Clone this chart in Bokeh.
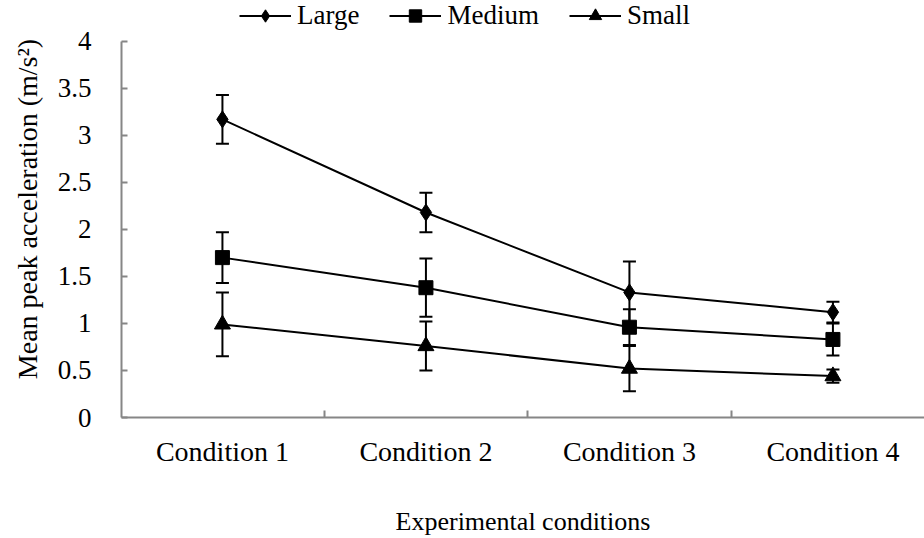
from bokeh.plotting import figure
from bokeh.models import (ColumnDataSource, Whisker, TeeHead, FixedTicker, Legend,
                          LegendItem, Range1d)
from bokeh.embed import file_html
from bokeh.resources import INLINE

# ---- data ----
conditions = ["Condition 1", "Condition 2", "Condition 3", "Condition 4"]
x_pos = [1, 2, 3, 4]
large = [3.17, 2.18, 1.33, 1.12]
large_err = [0.26, 0.21, 0.33, 0.11]
medium = [1.70, 1.38, 0.96, 0.83]
medium_err = [0.27, 0.31, 0.19, 0.17]
small = [0.99, 0.76, 0.52, 0.44]
small_err = [0.34, 0.26, 0.24, 0.07]
y_ticks = [0, 0.5, 1, 1.5, 2, 2.5, 3, 3.5, 4]
y_tick_labels = ["0", "0.5", "1", "1.5", "2", "2.5", "3", "3.5", "4"]
x_title = "Experimental conditions"
y_title = "Mean peak acceleration (m/s\u00b2)"

FONT = "Liberation Serif"
AXIS_GREY = "#868686"

# frame extends above y=4 to leave room for the legend; axis line is bounded to 0..4
p = figure(width=924, height=538, output_backend="svg", toolbar_location=None,
           x_range=Range1d(0.504, 4.45), y_range=Range1d(0, 4.434),
           min_border_left=121, min_border_right=0, min_border_top=0,
           min_border_bottom=119)
p.outline_line_color = None
p.grid.visible = False
p.background_fill_color = "white"

series = [
    ("Large", large, large_err, "diamond", 17),
    ("Medium", medium, medium_err, "square", 14),
    ("Small", small, small_err, "triangle", 16),
]

items = []
for name, vals, errs, marker, size in series:
    src = ColumnDataSource(dict(
        x=x_pos, y=vals,
        upper=[v + e for v, e in zip(vals, errs)],
        lower=[v - e for v, e in zip(vals, errs)],
    ))
    w = Whisker(base="x", upper="upper", lower="lower", source=src,
                dimension="height", line_color="black", line_width=2,
                upper_head=TeeHead(size=13, line_color="black", line_width=2),
                lower_head=TeeHead(size=13, line_color="black", line_width=2))
    p.add_layout(w)
    ln = p.line("x", "y", source=src, line_color="black", line_width=2)
    sc = p.scatter("x", "y", source=src, marker=marker, size=size,
                   fill_color="black", line_color="black")
    items.append(LegendItem(label=name, renderers=[ln, sc]))

legend = Legend(items=items, orientation="horizontal", location=(118, 386),
                glyph_width=52, glyph_height=31, label_standoff=6, spacing=30,
                padding=0, margin=0, border_line_color=None,
                background_fill_alpha=0,
                label_text_font=FONT, label_text_font_size="27px",
                label_text_color="black")
p.add_layout(legend, "center")

# y axis
ya = p.yaxis[0]
ya.bounds = (0, 4)
ya.ticker = FixedTicker(ticks=y_ticks)
ya.major_label_overrides = {t: l for t, l in zip(y_ticks, y_tick_labels)}
ya.minor_tick_line_color = None
ya.major_tick_in = 6
ya.major_tick_out = 0
ya.major_label_standoff = 30
ya.major_label_text_align = "right"
ya.axis_line_color = AXIS_GREY
ya.axis_line_width = 2
ya.major_tick_line_color = AXIS_GREY
ya.major_tick_line_width = 2
ya.major_label_text_font = FONT
ya.major_label_text_font_size = "27px"
ya.major_label_text_color = "black"
ya.axis_label = y_title
ya.axis_label_text_font = FONT
ya.axis_label_text_font_size = "28px"
ya.axis_label_text_font_style = "normal"
ya.axis_label_text_color = "black"
ya.axis_label_standoff = 12

# x axis
xa = p.xaxis[0]
xa.ticker = FixedTicker(ticks=x_pos, minor_ticks=[1.5, 2.5, 3.5])
xa.major_label_overrides = {x: c for x, c in zip(x_pos, conditions)}
xa.major_tick_in = 0
xa.major_tick_out = 0
xa.major_tick_line_color = None
xa.minor_tick_in = 7
xa.minor_tick_out = 0
xa.minor_tick_line_color = AXIS_GREY
xa.minor_tick_line_width = 2
xa.axis_line_color = AXIS_GREY
xa.axis_line_width = 2
xa.major_label_standoff = 18
xa.major_label_text_font = FONT
xa.major_label_text_font_size = "28px"
xa.major_label_text_color = "black"
xa.axis_label = x_title
xa.axis_label_text_font = FONT
xa.axis_label_text_font_size = "26px"
xa.axis_label_text_font_style = "normal"
xa.axis_label_text_color = "black"
xa.axis_label_standoff = 37

open("out.html", "w").write(file_html(p, INLINE))
